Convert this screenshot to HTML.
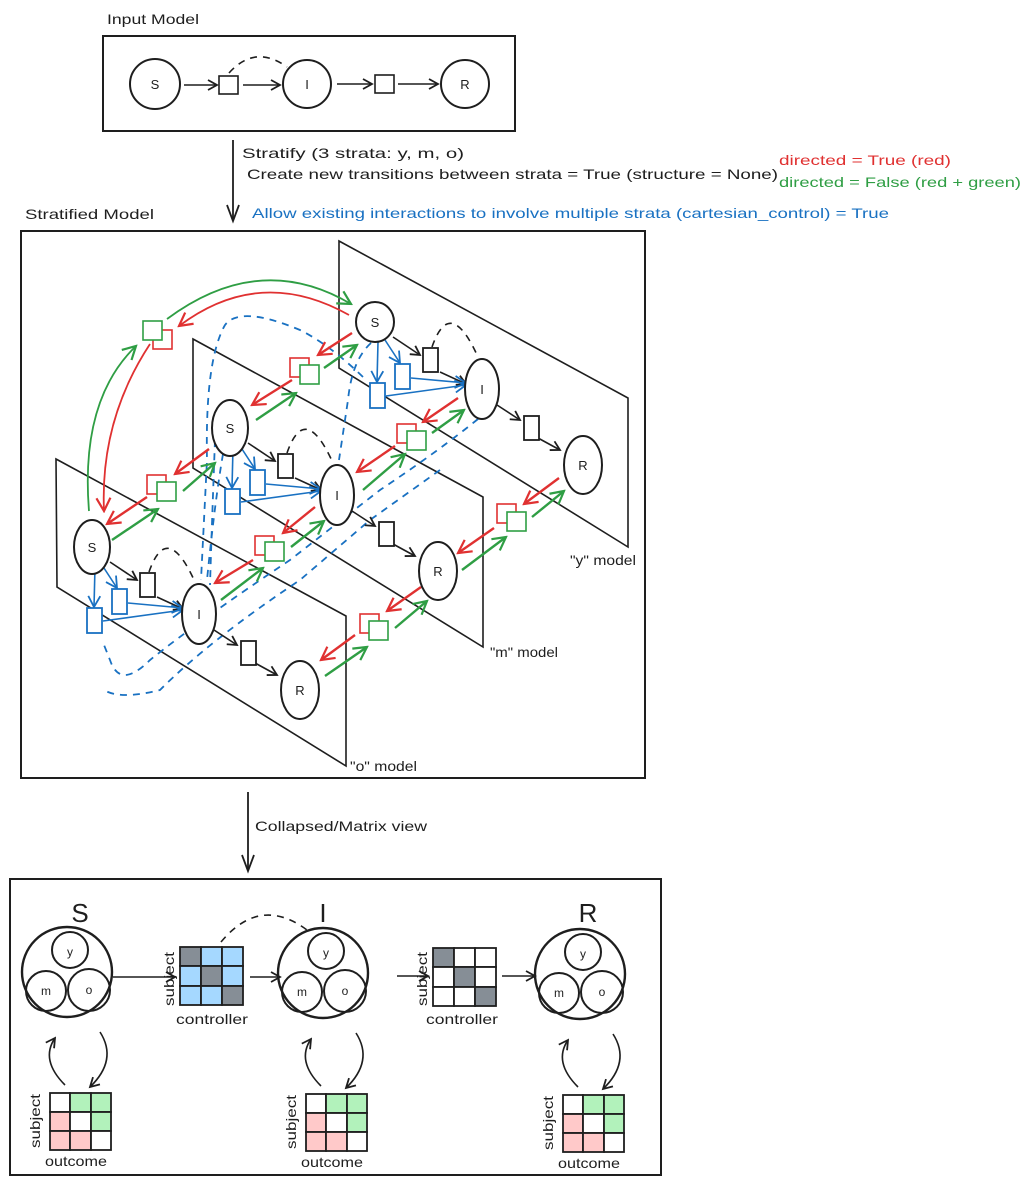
<!DOCTYPE html>
<html><head><meta charset="utf-8"><style>
html,body{margin:0;padding:0;background:#fff;}
svg{display:block;font-family:"Liberation Sans",sans-serif;}
</style></head><body>
<svg width="1029" height="1185" viewBox="0 0 1029 1185" xmlns="http://www.w3.org/2000/svg">
<defs>
<marker id="ak" markerWidth="12" markerHeight="12" refX="10" refY="6" orient="auto" markerUnits="userSpaceOnUse"><path d="M1,1 L10,6 L1,11" fill="none" stroke="#1e1e1e" stroke-width="1.8"/></marker>
<marker id="ar" markerWidth="16" markerHeight="16" refX="14" refY="8" orient="auto" markerUnits="userSpaceOnUse"><path d="M1,1 L14,8 L1,15" fill="none" stroke="#e03131" stroke-width="2.2"/></marker>
<marker id="ag" markerWidth="16" markerHeight="16" refX="14" refY="8" orient="auto" markerUnits="userSpaceOnUse"><path d="M1,1 L14,8 L1,15" fill="none" stroke="#2f9e44" stroke-width="2.2"/></marker>
<marker id="ab" markerWidth="14" markerHeight="14" refX="12" refY="7" orient="auto" markerUnits="userSpaceOnUse"><path d="M1,1 L12,7 L1,13" fill="none" stroke="#1971c2" stroke-width="1.8"/></marker>
</defs>
<g fill="none" stroke="#1e1e1e" stroke-width="2">
<rect x="103" y="36" width="412" height="95"/>
<circle cx="155" cy="84" r="25"/><circle cx="307" cy="84" r="24"/><circle cx="465" cy="84" r="24"/>
<rect x="219" y="76" width="19" height="18" stroke-width="1.6"/><rect x="375" y="75" width="19" height="18" stroke-width="1.6"/>
<g stroke-width="1.6" marker-end="url(#ak)"><line x1="184" y1="85" x2="217" y2="85"/><line x1="243" y1="85" x2="280" y2="85"/><line x1="337" y1="84" x2="372" y2="84"/><line x1="398" y1="84" x2="438" y2="84"/></g>
<path d="M229,73 Q255,44 287,67" stroke-dasharray="7,6" stroke-width="1.6"/>
<line x1="233" y1="140" x2="233" y2="220" stroke-width="1.8"/>
<path d="M227,205 L233,221 L239,205" stroke-width="1.8"/>
<rect x="21" y="231" width="624" height="547"/>
<g stroke-width="1.6">
<polygon points="339,241 628,398 628,547 339,368"/>
<polygon points="193,339 483,497 483,647 193,468"/>
<polygon points="56,459 346,616 346,766 57,587"/>
</g>
<line x1="248" y1="792" x2="248" y2="870" stroke-width="1.8"/>
<path d="M242,855 L248,871 L254,855" stroke-width="1.8"/>
<rect x="10" y="879" width="651" height="296"/>
</g>

<g font-size="14" fill="#1e1e1e">
<text x="107" y="24" textLength="92" lengthAdjust="spacingAndGlyphs">Input Model</text>
<text x="242" y="158" textLength="222" lengthAdjust="spacingAndGlyphs">Stratify (3 strata: y, m, o)</text>
<text x="247" y="179" textLength="531" lengthAdjust="spacingAndGlyphs">Create new transitions between strata = True (structure = None)</text>
<text x="779" y="165" fill="#e03131" textLength="172" lengthAdjust="spacingAndGlyphs">directed = True (red)</text>
<text x="779" y="187" fill="#2f9e44" textLength="242" lengthAdjust="spacingAndGlyphs">directed = False (red + green)</text>
<text x="252" y="218" fill="#1971c2" textLength="637" lengthAdjust="spacingAndGlyphs">Allow existing interactions to involve multiple strata (cartesian_control) = True</text>
<text x="25" y="219" textLength="129" lengthAdjust="spacingAndGlyphs">Stratified Model</text>
<text x="570" y="565" textLength="66" lengthAdjust="spacingAndGlyphs">"y" model</text>
<text x="490" y="657" textLength="68" lengthAdjust="spacingAndGlyphs">"m" model</text>
<text x="350" y="771" textLength="67" lengthAdjust="spacingAndGlyphs">"o" model</text>
<text x="255" y="831" textLength="172" lengthAdjust="spacingAndGlyphs">Collapsed/Matrix view</text>
<g font-size="13" text-anchor="middle">
<text x="155" y="89">S</text><text x="307" y="89">I</text><text x="465" y="89">R</text>
</g>
</g>

<g fill="none" stroke="#1971c2" stroke-width="1.8" stroke-dasharray="7,6">
<path d="M363,377 Q330,345 300,330 Q240,305 225,325 Q205,360 207,460 L201,580"/>
<path d="M371,343 Q352,360 348,400 L339,460"/>
<path d="M223,454 Q215,500 207,580"/>
<path d="M478,419 Q440,450 380,490 L290,560 Q200,620 150,660 Q120,690 110,660 L104,645"/>
<path d="M440,470 L370,520 L300,580 Q210,640 160,690 Q120,700 104,690"/>
<path d="M215,440 Q212,520 210,585"/>
</g>

<g fill="none" stroke-width="1.8">
<path d="M89,511 Q80,400 136,346" stroke="#2f9e44" marker-end="url(#ag)"/>
<path d="M167,319 Q260,250 351,304" stroke="#2f9e44" marker-end="url(#ag)"/>
<path d="M349,315 Q260,265 179,326" stroke="#e03131" marker-end="url(#ar)"/>
<path d="M150,344 Q100,420 104,511" stroke="#e03131" marker-end="url(#ar)"/>
</g>

<g stroke-width="1.6" fill="#fff">
<rect x="153" y="330" width="19" height="19" stroke="#e03131"/><rect x="143" y="321" width="19" height="19" stroke="#2f9e44"/>
<rect x="290" y="358" width="19" height="19" stroke="#e03131"/><rect x="300" y="365" width="19" height="19" stroke="#2f9e44"/>
<rect x="397" y="424" width="19" height="19" stroke="#e03131"/><rect x="407" y="431" width="19" height="19" stroke="#2f9e44"/>
<rect x="497" y="504" width="19" height="19" stroke="#e03131"/><rect x="507" y="512" width="19" height="19" stroke="#2f9e44"/>
<rect x="147" y="475" width="19" height="19" stroke="#e03131"/><rect x="157" y="482" width="19" height="19" stroke="#2f9e44"/>
<rect x="255" y="536" width="19" height="19" stroke="#e03131"/><rect x="265" y="542" width="19" height="19" stroke="#2f9e44"/>
<rect x="360" y="614" width="19" height="19" stroke="#e03131"/><rect x="369" y="621" width="19" height="19" stroke="#2f9e44"/>
</g>
<g stroke-width="2.4" fill="none">
<g stroke="#e03131" marker-end="url(#ar)">
<line x1="352" y1="333" x2="318" y2="355"/><line x1="292" y1="380" x2="252" y2="405"/>
<line x1="458" y1="398" x2="423" y2="422"/><line x1="395" y1="446" x2="357" y2="472"/>
<line x1="559" y1="478" x2="524" y2="504"/><line x1="494" y1="528" x2="458" y2="553"/>
<line x1="209" y1="449" x2="175" y2="474"/><line x1="147" y1="497" x2="107" y2="524"/>
<line x1="315" y1="507" x2="283" y2="533"/><line x1="253" y1="560" x2="215" y2="583"/>
<line x1="421" y1="587" x2="387" y2="611"/><line x1="355" y1="635" x2="321" y2="660"/>
</g>
<g stroke="#2f9e44" marker-end="url(#ag)">
<line x1="256" y1="420" x2="296" y2="393"/><line x1="324" y1="368" x2="357" y2="345"/>
<line x1="363" y1="490" x2="405" y2="454"/><line x1="432" y1="433" x2="464" y2="410"/>
<line x1="462" y1="570" x2="506" y2="537"/><line x1="532" y1="517" x2="564" y2="491"/>
<line x1="112" y1="540" x2="158" y2="509"/><line x1="183" y1="491" x2="215" y2="463"/>
<line x1="221" y1="600" x2="263" y2="568"/><line x1="291" y1="547" x2="324" y2="521"/>
<line x1="325" y1="676" x2="367" y2="647"/><line x1="395" y1="628" x2="427" y2="601"/>
</g>
</g>

<g id="yplane">
<g fill="none" stroke="#1e1e1e" stroke-width="1.6">
<path d="M432,347 Q450,295 478,357" stroke-dasharray="7,6"/>
<line x1="393" y1="337" x2="420" y2="355" marker-end="url(#ak)"/>
<line x1="440" y1="372" x2="466" y2="384" marker-end="url(#ak)"/>
<line x1="497" y1="405" x2="520" y2="420" marker-end="url(#ak)"/>
<line x1="538" y1="438" x2="560" y2="450" marker-end="url(#ak)"/>
</g>
<g fill="none" stroke="#1971c2" stroke-width="1.6" marker-end="url(#ab)">
<line x1="385" y1="340" x2="400" y2="363"/><line x1="378" y1="342" x2="377" y2="382"/>
<line x1="411" y1="378" x2="466" y2="383"/><line x1="386" y1="396" x2="466" y2="385"/>
</g>
<g fill="#fff" stroke-width="2" stroke="#1e1e1e">
<ellipse cx="482" cy="389" rx="17" ry="30"/><ellipse cx="583" cy="465" rx="19" ry="29"/>
<rect x="423" y="348" width="15" height="24" stroke-width="1.8"/><rect x="524" y="416" width="15" height="24" stroke-width="1.8"/>
<rect x="395" y="364" width="15" height="25" stroke="#1971c2" stroke-width="1.8"/><rect x="370" y="383" width="15" height="25" stroke="#1971c2" stroke-width="1.8"/>
</g>
<g font-size="13" fill="#1e1e1e" text-anchor="middle"><text x="482" y="394">I</text><text x="583" y="470">R</text></g>
</g>
<use href="#yplane" transform="translate(-145,106)"/>
<use href="#yplane" transform="translate(-283,225)"/>
<g fill="#fff" stroke-width="2" stroke="#1e1e1e">
<ellipse cx="375" cy="322" rx="19" ry="20"/>
<ellipse cx="230" cy="428" rx="18" ry="28"/>
<ellipse cx="92" cy="547" rx="18" ry="27"/>
</g>
<g font-size="13" fill="#1e1e1e" text-anchor="middle"><text x="375" y="327">S</text><text x="230" y="433">S</text><text x="92" y="552">S</text></g>

<g font-size="26" fill="#1e1e1e" text-anchor="middle"><text x="80" y="922">S</text><text x="323" y="922">I</text><text x="588" y="922">R</text></g>
<g id="big">
<g fill="none" stroke="#1e1e1e" stroke-width="2">
<circle cx="67" cy="972" r="45" stroke-width="2.4"/>
<circle cx="70" cy="950" r="18"/><circle cx="46" cy="991" r="20"/><circle cx="89" cy="990" r="21"/>
<path d="M65,1085 Q40,1060 55,1038" stroke-width="1.6" marker-end="url(#ak)"/>
<path d="M100,1032 Q118,1060 90,1087" stroke-width="1.6" marker-end="url(#ak)"/>
</g>
<g font-size="12" fill="#1e1e1e" text-anchor="middle"><text x="70" y="956">y</text><text x="46" y="995">m</text><text x="89" y="994">o</text></g>
<g stroke="#1e1e1e" stroke-width="1.8">
<rect x="50" y="1093" width="20" height="19" fill="#fff"/><rect x="70" y="1093" width="21" height="19" fill="#b2f2bb"/><rect x="91" y="1093" width="20" height="19" fill="#b2f2bb"/>
<rect x="50" y="1112" width="20" height="19" fill="#ffc9c9"/><rect x="70" y="1112" width="21" height="19" fill="#fff"/><rect x="91" y="1112" width="20" height="19" fill="#b2f2bb"/>
<rect x="50" y="1131" width="20" height="19" fill="#ffc9c9"/><rect x="70" y="1131" width="21" height="19" fill="#ffc9c9"/><rect x="91" y="1131" width="20" height="19" fill="#fff"/>
</g>
<g font-size="14" fill="#1e1e1e"><text x="45" y="1166" textLength="62" lengthAdjust="spacingAndGlyphs">outcome</text>
<text transform="translate(40,1148) rotate(-90)" textLength="54" lengthAdjust="spacingAndGlyphs">subject</text></g>
</g>
<use href="#big" transform="translate(256,1)"/>
<use href="#big" transform="translate(513,2)"/>

<g stroke="#1e1e1e" stroke-width="1.8">
<rect x="180" y="947" width="21" height="19" fill="#868e96"/><rect x="201" y="947" width="21" height="19" fill="#a5d8ff"/><rect x="222" y="947" width="21" height="19" fill="#a5d8ff"/>
<rect x="180" y="966" width="21" height="20" fill="#a5d8ff"/><rect x="201" y="966" width="21" height="20" fill="#868e96"/><rect x="222" y="966" width="21" height="20" fill="#a5d8ff"/>
<rect x="180" y="986" width="21" height="19" fill="#a5d8ff"/><rect x="201" y="986" width="21" height="19" fill="#a5d8ff"/><rect x="222" y="986" width="21" height="19" fill="#868e96"/>
<rect x="433" y="948" width="21" height="19" fill="#868e96"/><rect x="454" y="948" width="21" height="19" fill="#fff"/><rect x="475" y="948" width="21" height="19" fill="#fff"/>
<rect x="433" y="967" width="21" height="20" fill="#fff"/><rect x="454" y="967" width="21" height="20" fill="#868e96"/><rect x="475" y="967" width="21" height="20" fill="#fff"/>
<rect x="433" y="987" width="21" height="19" fill="#fff"/><rect x="454" y="987" width="21" height="19" fill="#fff"/><rect x="475" y="987" width="21" height="19" fill="#868e96"/>
</g>
<g fill="none" stroke="#1e1e1e" stroke-width="1.6">
<line x1="113" y1="977" x2="175" y2="977" marker-end="url(#ak)"/>
<line x1="250" y1="977" x2="280" y2="977" marker-end="url(#ak)"/>
<line x1="397" y1="976" x2="428" y2="976" marker-end="url(#ak)"/>
<line x1="502" y1="976" x2="535" y2="976" marker-end="url(#ak)"/>
<path d="M221,942 Q260,895 307,930" stroke-dasharray="7,6"/>
</g>
<g font-size="14" fill="#1e1e1e">
<text x="176" y="1024" textLength="72" lengthAdjust="spacingAndGlyphs">controller</text>
<text x="426" y="1024" textLength="72" lengthAdjust="spacingAndGlyphs">controller</text>
<text transform="translate(174,1006) rotate(-90)" textLength="54" lengthAdjust="spacingAndGlyphs">subject</text>
<text transform="translate(427,1006) rotate(-90)" textLength="54" lengthAdjust="spacingAndGlyphs">subject</text>
</g>
</svg>
</body></html>
